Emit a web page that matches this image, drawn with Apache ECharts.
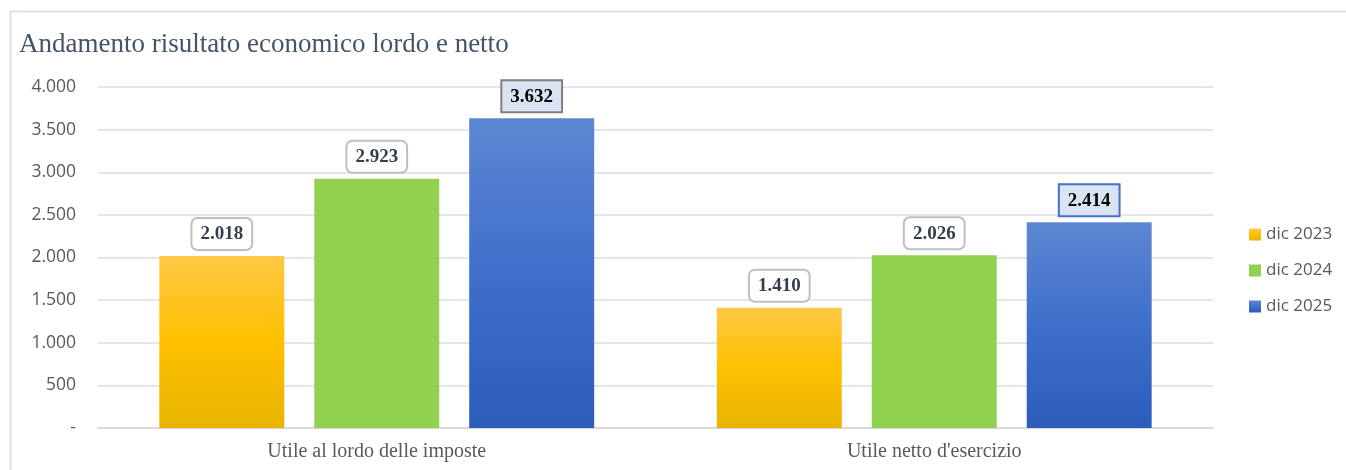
<!DOCTYPE html>
<html><head><meta charset="utf-8">
<script src="https://cdn.jsdelivr.net/npm/echarts@6/dist/echarts.min.js"></script>
<style>html,body{margin:0;padding:0;background:#fff}#c{width:1346px;height:470px}</style>
</head><body><div id="c"></div>
<script>
const categories = ["Utile al lordo delle imposte", "Utile netto d'esercizio"];
const seriesNames = ["dic 2023", "dic 2024", "dic 2025"];
const dic2023 = [2018, 1410];
const dic2024 = [2923, 2026];
const dic2025 = [3632, 2414];
const yTicks = [0, 500, 1000, 1500, 2000, 2500, 3000, 3500, 4000];

function fmt(v){ if(v===0) return '-'; return String(v).replace(/\B(?=(\d{3})+(?!\d))/g,'.'); }

const chart = echarts.init(document.getElementById('c'));
const baseLabel = {
  show:true, position:'top', distance:7, formatter:p=>fmt(p.value),
  fontFamily:'Liberation Serif', fontWeight:'bold', fontSize:19, color:'#333F50',
  backgroundColor:'#fff', borderColor:'#BFBFBF', borderWidth:2, borderRadius:5,
  padding:[6,8,5,8]
};
const yellow = new echarts.graphic.LinearGradient(0,0,0,1,[
  {offset:0,color:'#FFC845'},{offset:0.5,color:'#FFC000'},{offset:1,color:'#E6B400'}]);
const green = '#92D050';
const blue = new echarts.graphic.LinearGradient(0,0,0,1,[
  {offset:0,color:'#5C87D2'},{offset:0.5,color:'#3F6FCB'},{offset:1,color:'#2C5DBA'}]);

chart.setOption({
  animation:false,
  title:{text:'Andamento risultato economico lordo e netto', left:14, top:26,
    textStyle:{fontFamily:'Liberation Serif', fontWeight:'normal', fontSize:27, color:'#44546A'}},
  graphic:[
    {type:'line', shape:{x1:10,y1:11.5,x2:1346,y2:11.5}, style:{stroke:'#DDE2EA', lineWidth:2}},
    {type:'line', shape:{x1:10.5,y1:11,x2:10.5,y2:470}, style:{stroke:'#DDE2EA', lineWidth:2}}
  ],
  legend:{orient:'vertical', left:1244, top:221, itemGap:19, itemWidth:12, itemHeight:12,
    icon:'rect', data:seriesNames,
    textStyle:{fontFamily:'Open Sans', fontSize:17, color:'#595959'}},
  grid:{left:98, right:133, top:87, bottom:42, containLabel:false},
  xAxis:{type:'category', data:categories,
    axisLine:{show:true, lineStyle:{color:'#D9D9D9', width:2}}, axisTick:{show:false},
    axisLabel:{fontFamily:'Liberation Serif', fontSize:20, color:'#595959', margin:14}},
  yAxis:{type:'value', min:0, max:4000, interval:500,
    axisLine:{show:false}, axisTick:{show:false},
    splitLine:{lineStyle:{color:'#E3E6EC', width:2}},
    axisLabel:{formatter:v=>fmt(v), fontFamily:'Open Sans', fontSize:17.5, color:'#595959', margin:22}},
  series:[
    {name:seriesNames[0], type:'bar', data:dic2023, barGap:'24%', barCategoryGap:'22%',
     itemStyle:{color:yellow}, label:baseLabel},
    {name:seriesNames[1], type:'bar', data:dic2024, itemStyle:{color:green}, label:baseLabel},
    {name:seriesNames[2], type:'bar', data:dic2025.map((v,i)=>({value:v,
       label:Object.assign({}, baseLabel, {color:'#000', backgroundColor:'#DAE3F3', borderRadius:0,
         borderColor: i===0 ? '#7F7F7F' : '#4472C4'})})),
     itemStyle:{color:blue}, label:baseLabel}
  ]
});
</script></body></html>
